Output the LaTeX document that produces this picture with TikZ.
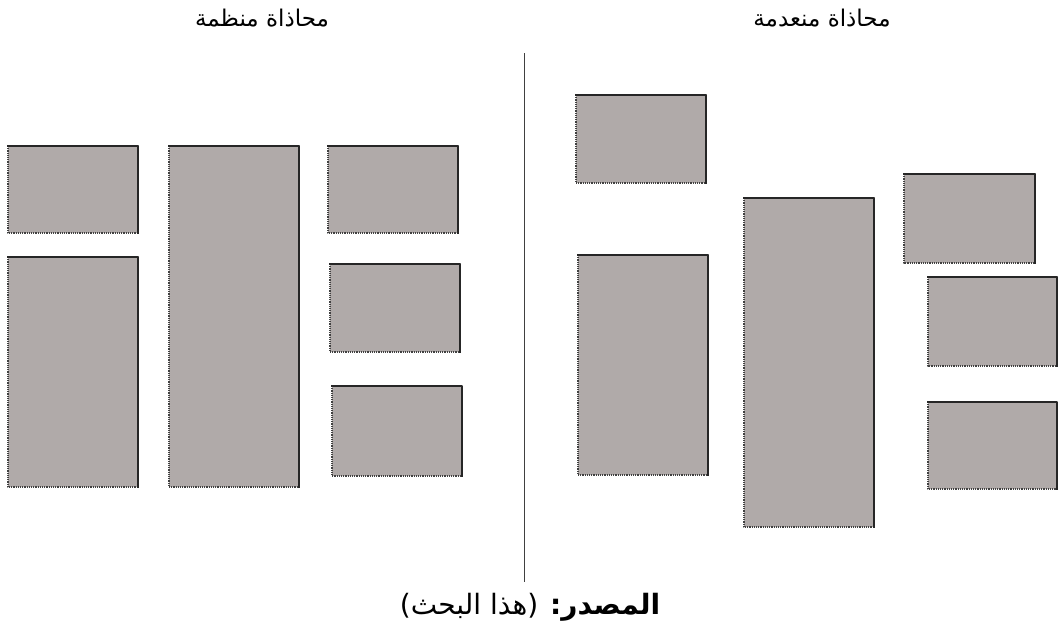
\documentclass[tikz,border=0pt]{standalone}
\usepackage{fontspec}
\newfontfamily\arabicfont[Script=Arabic]{DejaVu Sans}
\TeXXeTstate=1
\definecolor{panelgray}{HTML}{B0AAA9}
\tikzset{
  panel/.style={fill=panelgray, draw=black!75, densely dotted, line width=1.2pt},
  panel edge/.style={draw=black!85, line width=1.8pt, line cap=rect},
  title/.style={font=\arabicfont\fontsize{23}{27}\selectfont, inner sep=0pt},
  source/.style={font=\arabicfont\fontsize{28}{32}\selectfont, inner sep=0pt}
}
\begin{document}
\begin{tikzpicture}[x=1pt, y=-1pt, line join=round]
	\useasboundingbox (0, 0) rectangle (1058, 632);
	% panels: left x / top y / right x / bottom y
	\foreach \xa/\ya/\xb/\yb in {8/146/138/233, 8/257/138/487, 169/146/299/487,
		328/146/458/233, 330/264/460/352, 332/386/462/476,
		576/95/706/183, 578/255/708/475, 744/198/874/527,
		904/174/1035/263, 928/277/1057/366, 928/402/1057/489}
	{
		\draw[panel] (\xa, \ya) rectangle (\xb, \yb);
		\draw[panel edge] (\xa, \ya) -- (\xb, \ya) -- (\xb, \yb);
	}
	% divider
	\coordinate (divtop) at (524, 53);
	\coordinate (divbot) at (524, 582);
	\draw[black!75, line width=1pt] (divtop) -- (divbot);
	% labels
	\node[title] (ordered) at (262, 18) {\beginR محاذاة منظمة\endR};
	\node[title] (unordered) at (822, 18) {\beginR محاذاة منعدمة\endR};
	\node[source] (src) at (530, 607) {\beginR{\bfseries المصدر:}\hspace{12pt}(هذا البحث)\endR};
\end{tikzpicture}
\end{document}
